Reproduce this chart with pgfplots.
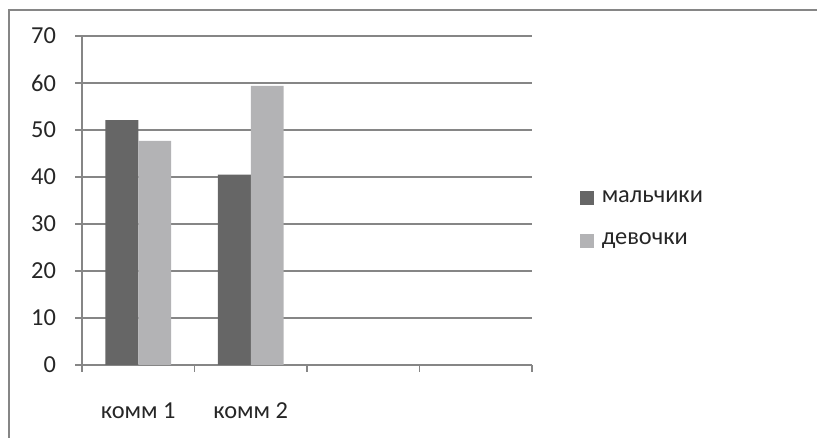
\documentclass[border=0pt]{standalone}
\usepackage{pgfplots}
\pgfplotsset{compat=1.18}
\usepackage{fontspec}
\setmainfont{Carlito}
\definecolor{boys}{HTML}{666666}
\definecolor{girls}{HTML}{B3B3B5}
\definecolor{gridc}{HTML}{868686}
\begin{document}
\fontsize{18.3}{22}\selectfont
\begin{tikzpicture}
\path[use as bounding box] (0,0) rectangle (612.75pt,328.5pt);
\draw[gridc, line width=1.1pt] (6.75pt,0) -- (6.75pt,321pt) -- (612.75pt,321pt);
\begin{axis}[
  at={(61.5pt,54.75pt)}, anchor=south west,
  scale only axis, width=337.5pt, height=246.75pt,
  xmin=0, xmax=4, ymin=0, ymax=70,
  ytick={0,10,...,70},
  ymajorgrids,
  grid style={gridc, line width=1.1pt},
  axis line style={gridc, line width=1.1pt},
  major tick style={gridc, line width=1.1pt},
  xtick={0,1,2,3,4}, xticklabels={},
  extra x ticks={0.5,1.5},
  extra x tick labels={комм 1,комм 2},
  extra x tick style={major tick length=0pt, grid=none, xticklabel style={yshift=-22pt}},
  axis x line*=bottom, axis y line*=left,
  tick align=outside, major tick length=5.25pt,
  /pgf/number format/assume math mode=true,
  ticklabel style={font=\fontsize{18.3}{22}\selectfont, text=black!85},
  yticklabel style={xshift=-8pt},
  ybar=0pt, bar width=0.293,
  legend style={draw=none, fill=none, at={(1.107,0.442)}, anchor=west,
    font=\fontsize{18.3}{22}\selectfont, text=black!85,
    row sep=16pt, inner sep=0pt,
    /tikz/every odd column/.append style={column sep=3.5pt}},
  legend image code/.code={\fill[#1] (0pt,-5.25pt) rectangle (10.5pt,5.25pt);},
  legend cell align=left,
]
\addplot[fill=boys, draw=none] coordinates {(0.5,52.1) (1.5,40.5)};
\addplot[fill=girls, draw=none] coordinates {(0.5,47.7) (1.5,59.4)};
\legend{мальчики,девочки}
\end{axis}
\end{tikzpicture}
\end{document}
